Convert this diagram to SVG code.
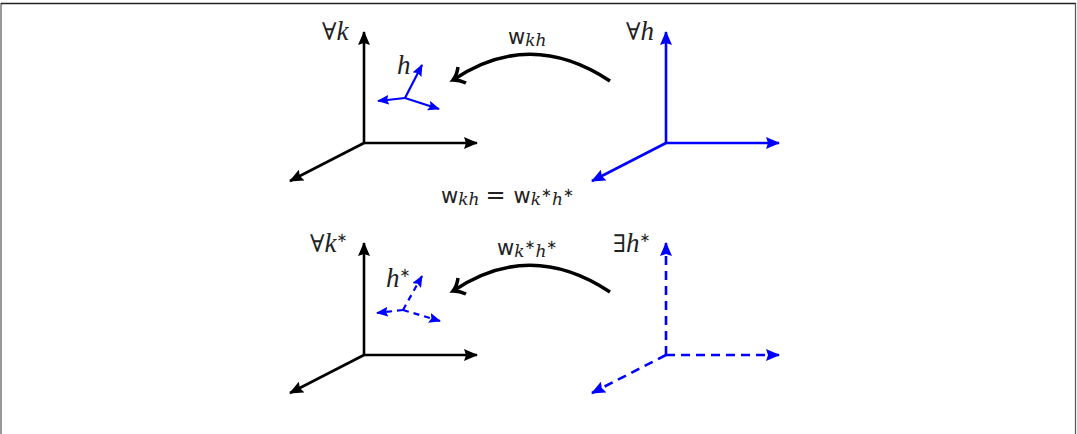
<svg xmlns="http://www.w3.org/2000/svg" width="1077" height="434" viewBox="0 0 1077 434">
<style>
.ax{fill:none;stroke:#000;stroke-width:2.6}
.bl{fill:none;stroke:#0000ff;stroke-width:2.6}
.sm{fill:none;stroke:#0000ff;stroke-width:2.2}
.ds{stroke-dasharray:9 6}
.dsm{stroke-dasharray:6 5}
.cur{fill:none;stroke:#000;stroke-width:3.5;stroke-linecap:butt}
.m{font-family:"DejaVu Serif","Liberation Serif",serif;font-size:24px;fill:#222}
.i{font-family:"Liberation Serif",serif;font-style:italic;font-size:27px}
.w{font-family:"DejaVu Sans","Liberation Sans",sans-serif;font-size:21px;fill:#222}
.sub{font-family:"DejaVu Serif",serif;font-style:italic;font-size:17px}
.st{font-family:"DejaVu Sans",sans-serif;font-size:13px}
</style>
<defs>
<marker id="ak" viewBox="0 0 14 12" refX="13" refY="6" markerWidth="14" markerHeight="12" markerUnits="userSpaceOnUse" orient="auto"><path d="M0,0 L14,6 L0,12 L2,6 Z" fill="#000"/></marker>
<marker id="ab" viewBox="0 0 14 12" refX="13" refY="6" markerWidth="14" markerHeight="12" markerUnits="userSpaceOnUse" orient="auto"><path d="M0,0 L14,6 L0,12 L2,6 Z" fill="#0000ff"/></marker>
<marker id="as" viewBox="0 0 12 10" refX="11" refY="5" markerWidth="12" markerHeight="10" markerUnits="userSpaceOnUse" orient="auto"><path d="M0,0 L12,5 L0,10 L2,5 Z" fill="#0000ff"/></marker>
</defs>
<rect width="1077" height="434" fill="#fff"/>
<path d="M1,434 V3.5 H1075.5 V434" fill="none" stroke="#555" stroke-width="1.2"/>
<path d="M1,3.5 H1075.5" stroke="#222" stroke-width="1.5"/>

<g id="frame-k">
<path class="ax" d="M364,143 V32" marker-end="url(#ak)"/>
<path class="ax" d="M364,143 H477" marker-end="url(#ak)"/>
<path class="ax" d="M364,143 L290,181" marker-end="url(#ak)"/>
<text class="m" x="322" y="40">∀<tspan class="i">k</tspan></text>
</g>
<g id="triad-h">
<path class="sm" d="M405,98 L422,65" marker-end="url(#as)"/>
<path class="sm" d="M405,98 L378,101" marker-end="url(#as)"/>
<path class="sm" d="M405,98 L439,109" marker-end="url(#as)"/>
<text class="m i" x="397" y="74">h</text>
</g>
<g id="frame-h">
<path class="bl" d="M666,143 V32" marker-end="url(#ab)"/>
<path class="bl" d="M666,143 H779" marker-end="url(#ab)"/>
<path class="bl" d="M666,143 L592,181" marker-end="url(#ab)"/>
<text class="m" x="626" y="40">∀<tspan class="i">h</tspan></text>
</g>
<g id="eq">
<text class="w" x="441" y="203">w<tspan class="sub" dy="2">kh</tspan><tspan dy="-2" font-family="DejaVu Serif" font-size="24" dx="6">=</tspan><tspan dx="8">w</tspan><tspan class="sub" dy="2">k</tspan><tspan class="st" dy="-8">∗</tspan><tspan class="sub" dy="8">h</tspan><tspan class="st" dy="-8">∗</tspan></text>
</g>
<g id="frame-kstar">
<path class="ax" d="M364,355 V243" marker-end="url(#ak)"/>
<path class="ax" d="M364,355 H477" marker-end="url(#ak)"/>
<path class="ax" d="M364,355 L290,393" marker-end="url(#ak)"/>
<text class="m" x="310" y="252">∀<tspan class="i">k</tspan><tspan class="st" font-size="17" dy="-10">∗</tspan></text>
</g>
<g id="triad-hstar">
<path class="sm dsm" d="M403,310 L422,276" marker-end="url(#as)"/>
<path class="sm dsm" d="M403,310 L377,313" marker-end="url(#as)"/>
<path class="sm dsm" d="M403,310 L440,321" marker-end="url(#as)"/>
<text class="m" x="386" y="287"><tspan class="i">h</tspan><tspan class="st" font-size="17" dy="-10">∗</tspan></text>
</g>
<g id="frame-hstar">
<path class="bl ds" d="M666,355 V243" marker-end="url(#ab)"/>
<path class="bl ds" d="M666,355 H779" marker-end="url(#ab)"/>
<path class="bl ds" d="M666,355 L592,393" marker-end="url(#ab)"/>
<text class="m" x="613" y="252">∃<tspan class="i">h</tspan><tspan class="st" font-size="17" dy="-10">∗</tspan></text>
</g>
<g id="connectors">
<path class="cur" d="M610,81 Q530,28 453,80"/>
<path class="cur" d="M458,67 Q457,75 453,80 Q460,80 466,83" stroke-width="3"/>
<text class="w" x="508" y="44">w<tspan class="sub" dy="2">kh</tspan></text>
<path class="cur" d="M610,292 Q530,239 453,291"/>
<path class="cur" d="M458,278 Q457,286 453,291 Q460,291 466,294" stroke-width="3"/>
<text class="w" x="497" y="255">w<tspan class="sub" dy="2">k</tspan><tspan class="st" dy="-8">∗</tspan><tspan class="sub" dy="8">h</tspan><tspan class="st" dy="-8">∗</tspan></text>
</g>
</svg>
